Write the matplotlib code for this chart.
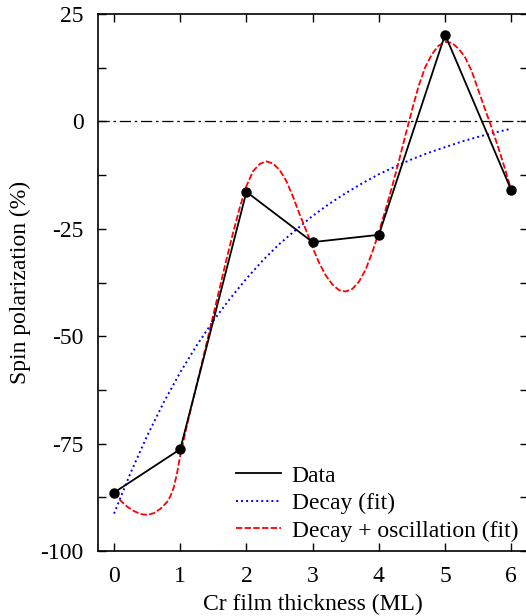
import matplotlib
matplotlib.use("Agg")
from matplotlib import pyplot as plt
from matplotlib.ticker import MultipleLocator

plt.rcParams['font.family'] = ['Liberation Serif', 'DejaVu Serif']
plt.rcParams['font.size'] = 17
plt.rcParams['axes.unicode_minus'] = False

# measured data
thickness = [0, 1, 2, 3, 4, 5, 6]
polarization = [-86.4, -76.3, -16.4, -28.1, -26.4, 20.2, -16.0]

# decay fit
decay_x = [0, 0.25, 0.5, 0.75, 1.0, 1.25, 1.5, 1.75, 2.0, 2.25, 2.5, 2.75, 3.0,
           3.25, 3.5, 3.75, 4.0, 4.25, 4.5, 4.75, 5.0, 5.25, 5.5, 5.75, 6.0]
decay_y = [-91.3, -81.8, -73.2, -65.4, -58.4, -52.1, -46.4, -41.3, -36.6, -32.3,
           -28.5, -25.2, -22.0, -19.2, -16.7, -14.4, -12.3, -10.5, -8.8, -7.3,
           -6.0, -4.7, -3.6, -2.6, -1.7]

# decay + oscillation fit
osc_x = [0, 0.1, 0.2, 0.3, 0.4, 0.5, 0.6, 0.7, 0.8, 0.85, 0.9, 0.95, 1.0, 1.1, 1.2,
         1.3, 1.4, 1.5, 1.6, 1.7, 1.8, 1.9, 2.0, 2.1, 2.2, 2.3, 2.4, 2.5, 2.6, 2.7,
         2.8, 2.9, 3.0, 3.1, 3.2, 3.3, 3.4, 3.5, 3.6, 3.7, 3.8, 3.9, 4.0, 4.1, 4.2,
         4.3, 4.4, 4.5, 4.6, 4.7, 4.8, 4.9, 5.0, 5.1, 5.2, 5.3, 5.4, 5.5, 5.6, 5.7,
         5.8, 5.9, 6.0]
osc_y = [-86.4, -88.3, -89.7, -90.7, -91.4, -91.6, -91.2, -90.2, -88.6, -87.3,
         -85.3, -82.0, -77.8, -70.8, -64.4, -58.0, -51.5, -45.0, -38.5, -32.0,
         -25.8, -20.0, -15.0, -11.6, -9.9, -9.3, -9.8, -11.3, -13.8, -17.4,
         -21.5, -25.3, -29.4, -33.0, -35.9, -38.0, -39.3, -39.6, -39.0, -37.3,
         -34.5, -30.5, -25.8, -20.6, -15.2, -9.4, -3.3, 2.6, 8.2, 12.6, 15.6,
         17.6, 18.5, 18.3, 17.0, 15.0, 11.8, 7.4, 3.0, -1.3, -5.9, -10.8, -16.0]

fig = plt.figure(figsize=(5.26, 6.16), dpi=100)
ax = fig.add_axes([97.5 / 526, 65 / 616, 430.3 / 526, 537 / 616])

ax.axhline(0, color='black', lw=0.9, ls=(0, (9, 3, 2, 3)), zorder=1)
ax.plot(thickness, polarization, color='black', lw=1.3, label='Data', zorder=4)
ax.plot(thickness, polarization, color='black', ls='none', marker='o', ms=6.5,
        zorder=5)
ax.plot(decay_x, decay_y, color='blue', lw=1.4, ls=(0, (1, 1.6)),
        label='Decay (fit)', zorder=2)
ax.plot(osc_x, osc_y, color='red', lw=1.3, ls=(0, (3.5, 1.3)),
        label='Decay + oscillation (fit)', zorder=3)

ax.set_xlim(-0.25, 6.25)
ax.set_ylim(-100, 25)
ax.set_xticks(thickness)
ax.yaxis.set_major_locator(MultipleLocator(25))
ax.yaxis.set_minor_locator(MultipleLocator(12.5))
ax.tick_params(which='both', direction='in', top=True, right=True,
               length=6, width=1.0)
ax.tick_params(axis='x', pad=11)
ax.tick_params(axis='y', pad=10)
for s in ax.spines.values():
    s.set_linewidth(1.2)

ax.set_xlabel('Cr film thickness (ML)', labelpad=5)
ax.set_ylabel('Spin polarization (%)', labelpad=7)

leg = ax.legend(loc='lower right', frameon=False, handlelength=1.9,
                handletextpad=0.45, labelspacing=0.25, borderaxespad=0.0,
                fontsize=17)

fig.savefig('out.png', dpi=100)
